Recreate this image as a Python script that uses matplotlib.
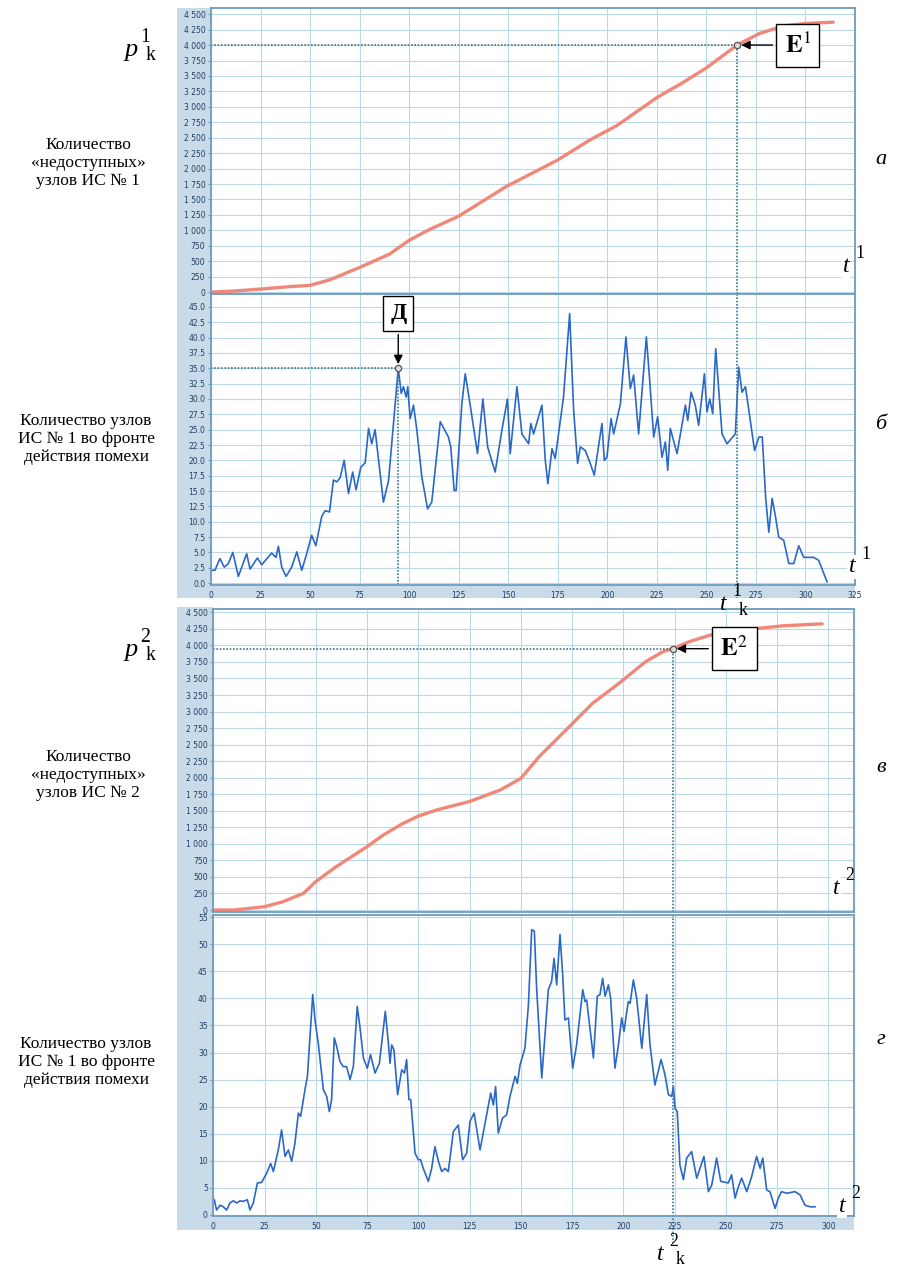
import matplotlib
matplotlib.use('Agg')
import matplotlib.pyplot as plt
from matplotlib.patches import Rectangle
from matplotlib.transforms import blended_transform_factory
import numpy as np

# cumulative count of "unreachable" nodes, system 1
t_cum1 = [0, 10, 25, 40, 50, 60, 75, 90, 100, 110, 125, 149, 175, 191, 205,
          225, 238, 250, 265.5, 277, 289, 300, 314]
p_cum1 = [0, 15, 50, 90, 110, 200, 400, 614, 840, 1010, 1230, 1710, 2140, 2460, 2700,
          3150, 3390, 3630, 4000, 4190, 4310, 4350, 4370]

# nodes of system 1 inside the interference front (run 1)
t_front1 = [0, 2, 4.5, 6.7, 8.8, 11, 13.8, 18, 19.7, 23.4, 25.6, 30.6, 32.8, 34, 35.7,
            37.9, 40.7, 43.3, 45.8, 48.3, 50.8, 52.9, 55.9, 57.6, 59.8, 61.8, 63.5, 65.2,
            67.2, 69.4, 71.5, 73.2, 75.6, 77.8, 79.5, 81.1, 82.8, 87, 89.6, 94.5, 96,
            97.1, 98.5, 99.3, 100.5, 102.2, 103.9, 106.4, 109.3, 111.4, 115.7, 119.8, 121,
            122.7, 123.7, 126.6, 128.3, 130.8, 134.5, 137.2, 139.6, 143.4, 146.8, 149.6,
            151, 154.4, 156.9, 160.3, 161.4, 162.8, 167, 168.7, 170, 172.1, 173.7, 177.9,
            181, 183, 185, 186.4, 188.9, 191.4, 193.4, 197.3, 198.5, 199.8, 201.9, 203.2,
            206.6, 209.4, 211.6, 213.3, 215.8, 219.7, 221.4, 223.4, 225.4, 227.6, 229.3,
            230.5, 231.8, 235.2, 239.4, 240.6, 242.3, 244.4, 246.1, 249, 250.3, 251.7,
            253.2, 254.7, 257.9, 260.4, 264.6, 266.3, 268, 269.7, 271.9, 274.3, 276.5,
            278.2, 279.9, 281.5, 283.2, 284.9, 286.5, 289, 291.6, 294.1, 296.6, 299.1,
            304.2, 306.7, 310.9]
n_front1 = [2.1, 2.1, 4.0, 2.6, 3.2, 5.0, 1.1, 4.8, 2.3, 4.1, 3.0, 4.9, 4.2, 6.0, 2.6,
            1.1, 2.6, 5.1, 2.1, 4.8, 7.8, 6.1, 10.9, 11.8, 11.6, 16.8, 16.5, 17.2,
            20.0, 14.6, 18.1, 15.2, 18.9, 19.6, 25.2, 22.7, 25.0, 13.2, 16.7, 35.0, 30.9,
            32.0, 30.3, 32.0, 26.8, 29.0, 24.9, 17.3, 12.1, 13.2, 26.3, 23.8, 22.2,
            15.1, 15.1, 29.2, 34.1, 29.0, 21.1, 30.0, 22.2, 18.1, 24.9, 30.0,
            21.1, 32.0, 24.3, 22.7, 26.0, 24.3, 29.0, 20.0, 16.2, 21.9, 20.3, 30.3,
            43.9, 28.2, 19.5, 22.2, 21.6, 19.5, 17.6, 26.0, 20.0, 20.5, 26.8, 24.3,
            29.2, 40.1, 31.7, 33.9, 24.3, 40.1, 33.0, 23.8, 27.1, 20.5, 23.0,
            18.4, 25.2, 21.1, 29.0, 26.5, 31.1, 29.0, 25.7, 34.1, 27.9, 30.0,
            27.6, 38.2, 24.3, 22.7, 24.3, 35.2, 31.1, 32.0, 27.1, 21.6, 23.8,
            23.8, 14.0, 8.3, 13.8, 10.8, 7.5, 7.0, 3.2, 3.2, 6.1, 4.2,
            4.2, 3.7, 0.2]

# cumulative count of "unreachable" nodes, system 2
t_cum2 = [0, 10, 25, 34, 44, 50, 60, 75, 83, 92, 100, 109, 125, 140, 150, 159, 172,
          185, 198, 211, 219.5, 224, 232.5, 245.5, 262, 278, 297]
p_cum2 = [0, 0, 50, 126, 252, 430, 656, 958, 1135, 1300, 1420, 1513, 1640, 1815, 1990,
          2320, 2720, 3125, 3430, 3757, 3908, 3950, 4060, 4185, 4246, 4296, 4326]

# nodes inside the interference front (run 2)
t_front2 = [0.5, 1.6, 3.3, 4.9, 6.5, 8.1, 9.8, 11.4, 13, 14.6, 16.6, 17.9, 19.5, 21.5,
            23.6, 26, 28, 29.3, 31.7, 33.3, 35, 36.6, 38.2, 39.8, 41.5, 42.6, 44.7, 45.9,
            47.2, 48.5, 49.6, 51.2, 53.7, 55.3, 56.6, 57.7, 59, 60.2, 61.8, 63.4, 65,
            66.7, 68.3, 70.2, 71.5, 73.2, 75.1, 76.7, 78.9, 81, 82.6, 83.9, 85.4, 86.2,
            87, 88.1, 89.9, 91.9, 93.2, 94.3, 95.4, 96.3, 98.4, 100, 101.1, 102.4, 104.9,
            106.5, 108.1, 109.8, 111.4, 113, 114.6, 117.1, 119.5, 121.6, 123.6, 125.2,
            127.2, 130.1, 133, 135.3, 136.6, 137.7, 139, 141.1, 143.1, 144.7, 147.2,
            148.3, 149.6, 152, 153.7, 155.3, 156.6, 157.7, 160.2, 161.8, 163.4, 165,
            166.2, 167.5, 169.1, 170.4, 171.5, 173.2, 175.3, 177.2, 180.2, 181.3, 182.1,
            185.4, 187.3, 188.6, 189.9, 191.1, 192.7, 193.8, 195.9, 197.6, 199.2, 200.3,
            202.4, 203.3, 204.9, 206.5, 209, 211.4, 213, 215.4, 216.6, 218.4, 220.3, 222,
            223.6, 224.4, 225.2, 226.3, 227.6, 229.3, 230.9, 233.3, 235.8, 237.4, 239.3,
            241.5, 243.1, 245.5, 247.5, 251.2, 252.8, 254.5, 256.1, 257.7, 260.2, 262.6,
            265, 266.7, 268, 269.9, 271.5, 274, 275.6, 277.2, 279.7, 283.7, 286.2, 288.6,
            291.1, 293.5]
n_front2 = [2.8, 0.9, 1.8, 1.5, 0.9, 2.2, 2.6, 2.2, 2.6, 2.5, 2.8, 0.9, 2.2, 5.9,
            6.0, 7.7, 9.5, 8.0, 12.0, 15.7, 10.8, 12.0, 9.9, 13.2, 18.8, 18.2, 23.1, 25.6,
            33.0, 40.7, 36.0, 31.7, 23.1, 21.9, 19.1, 21.3, 32.7, 31.1, 28.3, 27.4, 27.4,
            25.0, 27.4, 38.5, 34.8, 29.0, 27.1, 29.6, 26.2, 28.0, 33.3, 37.6, 31.7, 28.0,
            31.4, 30.5, 22.2, 26.8, 26.2, 28.7, 21.3, 21.3, 11.4, 10.2, 10.2, 8.6, 6.2,
            8.6, 12.6, 9.9, 8.0, 8.6, 8.0, 15.4, 16.6, 10.2, 11.4, 17.3,
            18.8, 12.0, 17.9, 22.5, 20.3, 23.7, 15.1, 17.9, 18.5, 21.9, 25.6,
            24.3, 27.7, 30.8, 38.8, 52.7, 52.4, 41.9, 25.3, 33.3, 41.6, 43.1,
            47.4, 42.5, 51.8, 44.4, 36.0, 36.4, 27.1, 31.4, 41.6, 39.4, 39.7,
            29.0, 40.4, 40.7, 43.7, 40.4, 42.5, 40.0, 27.1, 31.4, 36.4, 33.9,
            39.4, 39.1, 43.4, 40.0, 30.8, 40.7, 31.4, 24.0, 25.9, 28.7, 25.9, 22.2,
            21.9, 23.7, 19.7, 19.1, 9.2, 6.5, 10.5, 11.7, 6.8, 8.6, 10.8,
            4.3, 5.5, 10.5, 6.2, 5.9, 7.4, 3.1, 5.2, 6.8, 4.3, 7.1,
            10.8, 8.6, 10.5, 4.6, 4.3, 1.2, 3.1, 4.3, 4.0, 4.3, 3.7, 1.8,
            1.5, 1.5]

# marked points
tk1, pk1 = 265.5, 4000
td, nd = 94.5, 35.0
tk2, pk2 = 224, 3950

W, H = 907, 1275
STRIP = '#c9dae8'
SPINE = '#6d9dbd'
GRID = '#bad8e8'
TICK = '#1f3f66'
SALMON = '#f0887a'
BLUE = '#2b68c6'
DOT = '#3a7894'
SERIF = 'Liberation Serif'
plt.rcParams['mathtext.fontset'] = 'stix'


def fx(x):
    return x / W


def fy(y):
    return 1 - y / H


def rect(x0, y0, x1, y1):
    return [fx(x0), fy(y1), fx(x1) - fx(x0), fy(y0) - fy(y1)]


fig = plt.figure(figsize=(W / 100, H / 100), dpi=100)

# light strips behind the tick labels
for x0, y0, x1, y1 in [(177, 8, 211, 598), (177, 585, 855, 598),
                       (177, 607, 213, 1230), (177, 1216, 854, 1230)]:
    fig.add_artist(Rectangle((fx(x0), fy(y1)), fx(x1) - fx(x0), fy(y0) - fy(y1),
                             transform=fig.transFigure, color=STRIP, lw=0, zorder=0))


def style(ax, xmax, ylim, yticks, fmt, xlabels):
    ax.set_xlim(0, xmax)
    ax.set_ylim(*ylim)
    ax.set_xticks(np.arange(0, xmax + 0.1, 25))
    ax.set_yticks(yticks)
    ax.set_yticklabels([fmt(v) for v in yticks])
    if not xlabels:
        ax.set_xticklabels([])
    ax.grid(True, color=GRID, lw=0.8)
    ax.set_axisbelow(True)
    for s in ax.spines.values():
        s.set_color(SPINE)
        s.set_linewidth(1.3)
    ax.tick_params(axis='both', labelsize=5.5, labelcolor=TICK, color=SPINE,
                   length=2, pad=2)
    ax.tick_params(axis='x', length=0, pad=4)


def thousands(v):
    return f'{int(v):,}'.replace(',', ' ')


ax_a = fig.add_axes(rect(211, 8, 855, 294))
ax_b = fig.add_axes(rect(211, 294, 855, 585))
ax_c = fig.add_axes(rect(213.3, 609, 854, 912))
ax_d = fig.add_axes(rect(213.3, 915, 854, 1216))

style(ax_a, 325, (-30, 4600), np.arange(0, 4501, 250), thousands, False)
style(ax_b, 325, (-0.3, 47.1), np.arange(0, 45.1, 2.5), lambda v: f'{v:.1f}', True)
style(ax_c, 312.5, (-30, 4550), np.arange(0, 4501, 250), thousands, False)
style(ax_d, 312.5, (-0.2, 55.4), np.arange(0, 56, 5), lambda v: f'{int(v)}', True)

ax_a.plot(t_cum1, p_cum1, color=SALMON, lw=2.4, solid_capstyle='round')
ax_c.plot(t_cum2, p_cum2, color=SALMON, lw=2.4, solid_capstyle='round')
ax_b.plot(t_front1, n_front1, color=BLUE, lw=1.2)
ax_d.plot(t_front2, n_front2, color=BLUE, lw=1.2)

dot = dict(color=DOT, ls=(0, (1, 1)), lw=1.2)
box = dict(boxstyle='square,pad=0.35', fc='white', ec='black', lw=1)
arrow = dict(arrowstyle='-|>', color='black', lw=1, mutation_scale=13, shrinkB=3)
marker = dict(marker='o', ms=4.5, mfc='#dddddd', mec='#555555', mew=0.9, zorder=5)

# E1 marker with guide lines
ax_a.plot([0, tk1], [pk1, pk1], **dot)
ax_a.plot([tk1, tk1], [-30, pk1], **dot)
tb = blended_transform_factory(ax_b.transData, ax_b.transAxes)
ax_b.plot([tk1, tk1], [1, -0.045], transform=tb, clip_on=False, **dot)
ax_a.plot(tk1, pk1, **marker)
ax_a.annotate(r'$\mathbf{E}^{1}$', xy=(tk1, pk1), xytext=(296, pk1),
              fontsize=18, ha='center', va='center', bbox=box, arrowprops=arrow)

# point Д
ax_b.plot([0, td], [nd, nd], **dot)
ax_b.plot([td, td], [-0.3, nd], **dot)
ax_b.plot(td, nd, **marker)
ax_b.annotate('Д', xy=(td, nd), xytext=(td, 43.9), fontsize=17,
              family=SERIF, fontweight='bold', ha='center', va='center',
              bbox=dict(boxstyle='square,pad=0.3', fc='white', ec='black', lw=1),
              arrowprops=arrow)

# E2 marker with guide lines
ax_c.plot([0, tk2], [pk2, pk2], **dot)
ax_c.plot([tk2, tk2], [-30, pk2], **dot)
td_tr = blended_transform_factory(ax_d.transData, ax_d.transAxes)
ax_d.plot([tk2, tk2], [1, -0.09], transform=td_tr, clip_on=False, **dot)
ax_c.plot(tk2, pk2, **marker)
ax_c.annotate(r'$\mathbf{E}^{2}$', xy=(tk2, pk2), xytext=(254, pk2),
              fontsize=18, ha='center', va='center', bbox=box, arrowprops=arrow)


def ftext(x, y, s, **kw):
    kw.setdefault('family', SERIF)
    return fig.text(fx(x), fy(y), s, **kw)


def indexed(x, y, base, sup, sub=None, size=17, bg=False):
    bb = dict(fc='white', ec='none', pad=1) if bg else None
    ftext(x, y, base, fontsize=size, style='italic', ha='center', va='center', bbox=bb)
    ftext(x + 14, y - 13, sup, fontsize=size * 0.75, ha='center', va='center')
    if sub:
        ftext(x + 20, y + 6, sub, fontsize=size * 0.75, ha='center', va='center')


indexed(131, 50, 'p', '1', 'k', size=19)
indexed(131, 650, 'p', '2', 'k', size=19)
indexed(846, 266, 't', '1', bg=True)
indexed(852, 567, 't', '1', bg=True)
indexed(836, 888, 't', '2', bg=True)
indexed(842, 1206, 't', '2', bg=True)
indexed(723, 604, 't', '1', 'k')
indexed(660, 1254, 't', '2', 'k')

lbl = dict(fontsize=12.5, ha='center', va='center', linespacing=1.15)
ftext(88, 163, 'Количество\n«недоступных»\nузлов ИС № 1', **lbl)
ftext(86, 439, 'Количество узлов\nИС № 1 во фронте\nдействия помехи', **lbl)
ftext(88, 775, 'Количество\n«недоступных»\nузлов ИС № 2', **lbl)
ftext(86, 1062, 'Количество узлов\nИС № 1 во фронте\nдействия помехи', **lbl)

for y, s in [(160, 'а'), (425, 'б'), (767, 'в'), (1040, 'г')]:
    ftext(881, y, s, fontsize=16, style='italic', ha='center', va='center')

fig.savefig('out.png', dpi=100)
plt.close(fig)
